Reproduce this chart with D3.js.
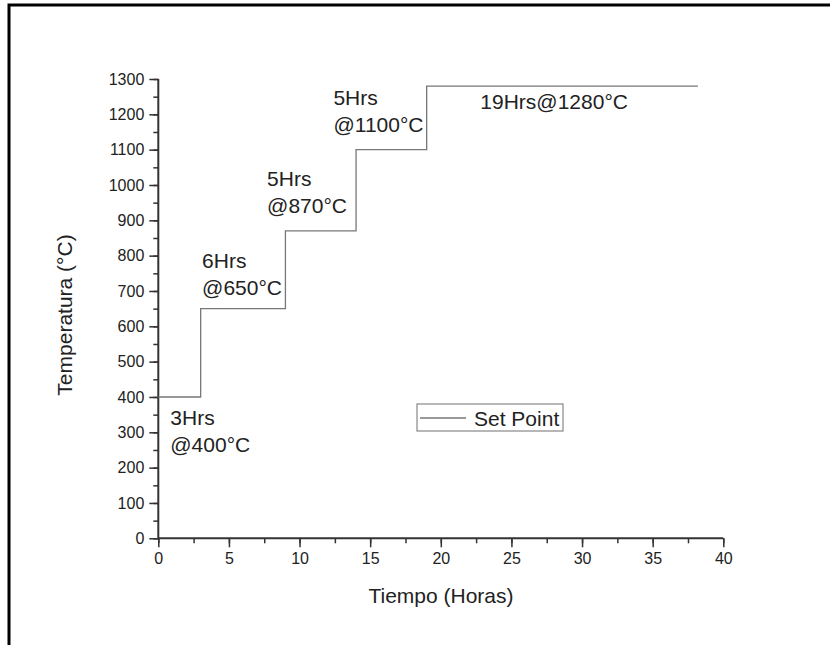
<!DOCTYPE html>
<html>
<head>
<meta charset="utf-8">
<script src="https://cdn.jsdelivr.net/npm/d3@7"></script>
<style>
  body { margin: 0; background: #fff; }
  text { font-family: "Liberation Sans", Arial, sans-serif; fill: #222; }
</style>
</head>
<body>
<div id="chart"></div>
<script>
// step profile: time (h) and set point (°C)
const tiempo = [0, 3, 3, 9, 9, 14, 14, 19, 19, 38.2];
const temperatura = [400, 400, 650, 650, 870, 870, 1100, 1100, 1280, 1280];

const xTicks = [0, 5, 10, 15, 20, 25, 30, 35, 40];
const yTicks = [0, 100, 200, 300, 400, 500, 600, 700, 800, 900, 1000, 1100, 1200, 1300];

// annotations: [x, y, lines]
const notas = [
  [0.85, 320, ["3Hrs", "@400°C"]],
  [3.1, 765, ["6Hrs", "@650°C"]],
  [7.7, 997, ["5Hrs", "@870°C"]],
  [12.4, 1227, ["5Hrs", "@1100°C"]],
  [22.8, 1215, ["19Hrs@1280°C"]]
];

const width = 830, height = 645;
const margin = {left: 158.3, right: 830 - 723.3, top: 79, bottom: 645 - 538.3};

const svg = d3.select("#chart")
  .append("svg")
    .attr("width", width)
    .attr("height", height);

// outer frame (top + left)
svg.append("path")
  .attr("d", "M9,645 L9,5 L830,5")
  .attr("fill", "none")
  .attr("stroke", "#000")
  .attr("stroke-width", 3);

const x = d3.scaleLinear().domain([0, 40]).range([margin.left, width - margin.right]);
const y = d3.scaleLinear().domain([0, 1300]).range([height - margin.bottom, margin.top]);

// minor ticks
const xMinor = d3.range(0, 40.01, 2.5);
const yMinor = d3.range(0, 1300.1, 50);

const gx = svg.append("g")
  .attr("transform", `translate(0,${y(0)})`)
  .call(d3.axisBottom(x).tickValues(xMinor).tickSize(5).tickFormat(""));
gx.selectAll(".tick line").attr("stroke", "#333").attr("stroke-width", 1.5);
const gx2 = svg.append("g")
  .attr("transform", `translate(0,${y(0)})`)
  .call(d3.axisBottom(x).tickValues(xTicks).tickSize(9).tickPadding(5).tickFormat(d3.format("d")));
gx2.selectAll(".tick line").attr("stroke", "#333").attr("stroke-width", 1.5);
gx2.selectAll("text").attr("font-size", "16px").style("font-family", "Liberation Sans, Arial, sans-serif").attr("fill", "#222");

const gy = svg.append("g")
  .attr("transform", `translate(${x(0)},0)`)
  .call(d3.axisLeft(y).tickValues(yMinor).tickSize(5).tickFormat(""));
gy.selectAll(".tick line").attr("stroke", "#333").attr("stroke-width", 1.5);
const gy2 = svg.append("g")
  .attr("transform", `translate(${x(0)},0)`)
  .call(d3.axisLeft(y).tickValues(yTicks).tickSize(9).tickPadding(5).tickFormat(d3.format("d")));
gy2.selectAll(".tick line").attr("stroke", "#333").attr("stroke-width", 1.5);
gy2.selectAll("text").attr("font-size", "16px").style("font-family", "Liberation Sans, Arial, sans-serif").attr("fill", "#222");
svg.selectAll(".domain").remove();

// axis lines
svg.append("line")
  .attr("x1", x(0)).attr("x2", x(40)).attr("y1", y(0)).attr("y2", y(0))
  .attr("stroke", "#333").attr("stroke-width", 2);
svg.append("line")
  .attr("x1", x(0)).attr("x2", x(0)).attr("y1", y(0)).attr("y2", y(1300))
  .attr("stroke", "#333").attr("stroke-width", 2);

// set point line
const pts = tiempo.map((t, i) => [t, temperatura[i]]);
svg.append("path")
  .datum(pts)
  .attr("fill", "none")
  .attr("stroke", "#777")
  .attr("stroke-width", 1.3)
  .attr("d", d3.line().x(d => x(d[0])).y(d => y(d[1])));

// annotations
notas.forEach(n => {
  const t = svg.append("text")
    .attr("x", x(n[0]))
    .attr("y", y(n[1]))
    .attr("font-size", "21px");
  n[2].forEach((s, i) => {
    t.append("tspan").attr("x", x(n[0])).attr("dy", i === 0 ? 0 : 27).text(s);
  });
});

// legend
const lg = svg.append("g").attr("transform", "translate(417,404)");
lg.append("rect")
  .attr("width", 146).attr("height", 27)
  .attr("fill", "#fff").attr("stroke", "#888").attr("stroke-width", 1.2);
lg.append("line")
  .attr("x1", 3).attr("x2", 49).attr("y1", 14).attr("y2", 14)
  .attr("stroke", "#777").attr("stroke-width", 1.3);
lg.append("text")
  .attr("x", 57).attr("y", 22)
  .attr("font-size", "21px")
  .text("Set Point");

// axis titles
svg.append("text")
  .attr("x", 441).attr("y", 603)
  .attr("text-anchor", "middle")
  .attr("font-size", "21px")
  .text("Tiempo (Horas)");

svg.append("text")
  .attr("transform", "translate(72,315) rotate(-90)")
  .attr("text-anchor", "middle")
  .attr("font-size", "21px")
  .text("Temperatura (°C)");
</script>
</body>
</html>
